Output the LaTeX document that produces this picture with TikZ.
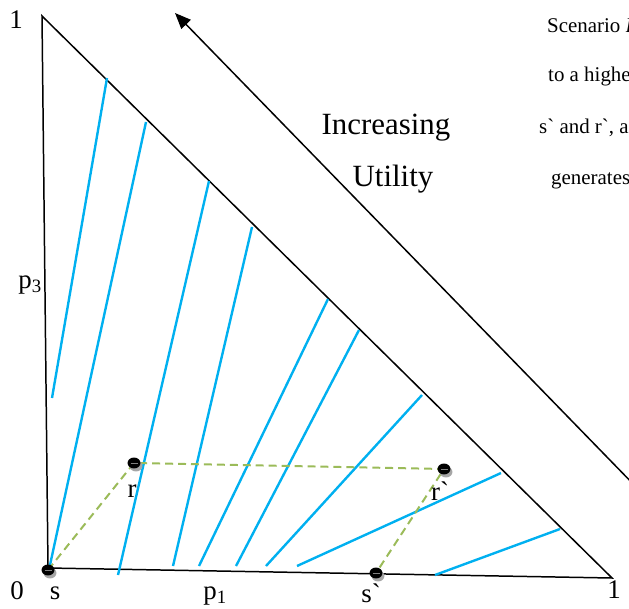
\documentclass[tikz,border=0pt]{standalone}
\usepackage{fontspec}
\setmainfont{Liberation Serif}
\newfontfamily\gravefont{Liberation Serif}
\usetikzlibrary{arrows.meta, shapes.geometric}
\definecolor{Curve}{HTML}{00B0F0}
\definecolor{Path}{HTML}{9BBB59}
\newcommand{\gr}{{\gravefont`}}

\tikzset{
  axislab/.style={font=\fontsize{27}{27}\selectfont, inner sep=0pt},
  note/.style={font=\fontsize{21}{21}\selectfont, anchor=west, inner sep=0pt},
  curve/.style={draw=Curve, line width=2.4pt},
  moveline/.style={draw=Path, line width=2pt, dash pattern=on 8pt off 5pt},
  lottery/.style={ellipse, fill=black, minimum width=13pt, minimum height=11pt, inner sep=0pt},
  lotshadow/.style={ellipse, fill=gray!70, minimum width=13pt, minimum height=11pt, inner sep=0pt}
}

\begin{document}
\begin{tikzpicture}[x=1bp, y=-1bp]
  \useasboundingbox (0,0) rectangle (629,609);
  \clip (0,0) rectangle (629,609);

  % triangle corners
  \coordinate (top) at (42,16);
  \coordinate (origin) at (48,568);
  \coordinate (right) at (612,578);
  \draw[line width=1.5pt, line join=miter] (top) -- (origin) -- (right) -- cycle;

  % indifference lines
  \foreach \xa/\ya/\xb/\yb in {52/398/107/78, 50/565/146/122, 118/575/209/181,
      173/566/252/227, 199/566/328/299, 236/566/359/330, 266/566/422/395,
      297/566/501/473, 435/575/560/529}
    \draw[curve] (\xa,\ya) -- (\xb,\yb);

  % direction of preference
  \coordinate (arrowfoot) at (640,491);
  \coordinate (arrowhead) at (175,13);
  \draw[line width=1.5pt, -{Triangle[length=16pt, width=13pt]}] (arrowfoot) -- (arrowhead);

  % lotteries
  \coordinate (s) at (48,570);
  \coordinate (r) at (134,463);
  \coordinate (rp) at (444,469);
  \coordinate (sp) at (376,573);
  \draw[moveline] (s) -- (r) -- (rp) -- (sp);
  \foreach \p in {s, r, rp, sp} {
    \node[lotshadow] at ([xshift=2bp, yshift=-3bp]\p) {};
    \node[lottery] (dot-\p) at (\p) {};
    \draw[gray, line width=0.6pt] ([xshift=-3.5bp]\p) -- ([xshift=3.5bp]\p);
  }

  % axis labels
  \node[axislab] (zero) at (17,591) {0};
  \node[axislab] (one-top) at (16,20) {1};
  \node[axislab] (one-right) at (614,590) {1};
  \node[axislab] (lab-s) at (55,593) {s};
  \node[axislab] (lab-r) at (132,491) {r};
  \node[axislab] (lab-rp) at (440,491) {r\gr};
  \node[axislab] (lab-sp) at (371,593) {s\gr};
  \node[axislab] (p-one) at (215,596) {p\textsubscript{1}};
  \node[axislab] (p-three) at (30,285) {p\textsubscript{3}};

  % arrow caption
  \node[font=\fontsize{31}{31}\selectfont, inner sep=0pt] (incr) at (386,128) {Increasing};
  \node[font=\fontsize{31}{31}\selectfont, inner sep=0pt] (util) at (393,179) {Utility};

  % cut-off side text
  \node[note] (txt-a) at (547,26) {Scenario \textit{B}};
  \node[note] (txt-b) at (548,77) {to a higher};
  \node[note] (txt-c) at (539,128) {s\gr{} and r\gr, a};
  \node[note] (txt-d) at (551,181) {generates};
\end{tikzpicture}
\end{document}
